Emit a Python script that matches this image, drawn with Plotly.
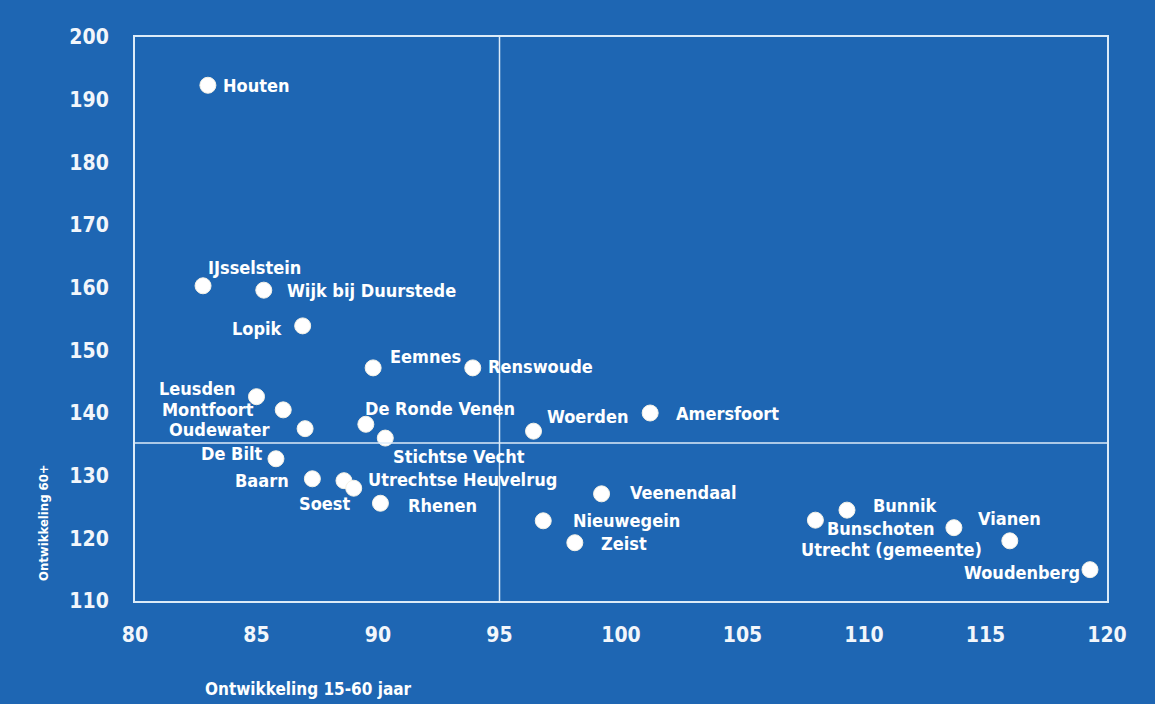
import plotly.graph_objects as go

# ---- data ----
gemeenten = [
    "Houten", "IJsselstein", "Wijk bij Duurstede", "Lopik", "Eemnes", "Renswoude",
    "Leusden", "Montfoort", "Oudewater", "De Ronde Venen", "Stichtse Vecht", "Woerden",
    "Amersfoort", "De Bilt", "Baarn", "Utrechtse Heuvelrug", "Soest", "Rhenen",
    "Veenendaal", "Nieuwegein", "Zeist", "Bunschoten", "Bunnik", "Vianen",
    "Utrecht (gemeente)", "Woudenberg",
]
ontw_15_60 = [
    83.0, 82.8, 85.3, 86.9, 89.8, 93.9,
    85.0, 86.1, 87.0, 89.5, 90.3, 96.4,
    101.2, 85.8, 87.3, 88.6, 89.0, 90.1,
    99.2, 96.8, 98.1, 108.0, 109.3, 113.7,
    116.0, 119.3,
]
ontw_60plus = [
    192.3, 160.3, 159.6, 153.9, 147.2, 147.2,
    142.6, 140.5, 137.5, 138.2, 136.0, 137.1,
    140.0, 132.7, 129.5, 129.2, 128.0, 125.6,
    127.1, 122.8, 119.3, 122.9, 124.5, 121.7,
    119.6, 115.0,
]
x_ticks = [80, 85, 90, 95, 100, 105, 110, 115, 120]
y_ticks = [110, 120, 130, 140, 150, 160, 170, 180, 190, 200]
ref_x = 95.0     # gemiddelde 15-60
ref_y = 135.2    # gemiddelde 60+

# ---- label placement (anchor, xshift px, yshift px) ----
label_pos = {
    "Houten": ("left", 13, 0),
    "IJsselstein": ("left", 3, 18),
    "Wijk bij Duurstede": ("left", 21, 0),
    "Lopik": ("right", -18, -3),
    "Eemnes": ("left", 15, 11),
    "Renswoude": ("left", 13, 1),
    "Leusden": ("right", -19, 8),
    "Montfoort": ("right", -27, 0),
    "Oudewater": ("right", -34, -1),
    "De Ronde Venen": ("left", -3, 16),
    "Stichtse Vecht": ("left", 6, -18),
    "Woerden": ("left", 11, 15),
    "Amersfoort": ("left", 24, 0),
    "De Bilt": ("right", -12, 5),
    "Baarn": ("right", -21, -2),
    "Utrechtse Heuvelrug": ("left", 22, 1),
    "Soest": ("right", -2, -15),
    "Rhenen": ("left", 26, -2),
    "Veenendaal": ("left", 26, 1),
    "Nieuwegein": ("left", 28, 0),
    "Zeist": ("left", 24, -1),
    "Bunschoten": ("left", 10, -8),
    "Bunnik": ("left", 24, 5),
    "Vianen": ("left", 22, 9),
    "Utrecht (gemeente)": ("right", -26, -9),
    "Woudenberg": ("right", -8, -3),
}

BG = "#1E66B3"
FONT = "DejaVu Sans Condensed, Liberation Sans Narrow, Arial Narrow, sans-serif"
FRAME = "#DCEBF8"

fig = go.Figure()
fig.add_trace(go.Scatter(
    x=ontw_15_60, y=ontw_60plus, mode="markers",
    marker=dict(size=16, color="#FFFFFF", line=dict(color="#F4F1E6", width=1)),
    hoverinfo="text", text=gemeenten, showlegend=False,
))

annotations = []
for name, xv, yv in zip(gemeenten, ontw_15_60, ontw_60plus):
    anchor, dx, dy = label_pos[name]
    annotations.append(dict(
        x=xv, y=yv, xref="x", yref="y", text=f"<b>{name}</b>", showarrow=False,
        xanchor=anchor, yanchor="middle", xshift=dx, yshift=dy,
        font=dict(family=FONT, size=18, color="#FFFFFF"),
    ))

annotations.append(dict(
    x=0.178, y=-0.156, xref="paper", yref="paper", text="<b>Ontwikkeling 15-60 jaar</b>",
    showarrow=False, xanchor="center", yanchor="middle",
    font=dict(family=FONT, size=17, color="#FFFFFF"),
))
annotations.append(dict(
    x=-0.0947, y=0.14, xref="paper", yref="paper", text="<b>Ontwikkeling 60+</b>",
    showarrow=False, xanchor="center", yanchor="middle", textangle=-90,
    font=dict(family=FONT, size=13, color="#FFFFFF"),
))

shapes = [
    dict(type="line", xref="x", yref="y", x0=ref_x, x1=ref_x, y0=110, y1=200,
         line=dict(color=FRAME, width=1.5)),
    dict(type="line", xref="x", yref="y", x0=80, x1=120, y0=ref_y, y1=ref_y,
         line=dict(color=FRAME, width=1.5)),
]

fig.update_layout(
    width=1155, height=704,
    margin=dict(l=135, r=48, t=37, b=103),
    paper_bgcolor=BG, plot_bgcolor=BG,
    font=dict(family=FONT, color="#FFFFFF"),
    annotations=annotations, shapes=shapes,
    xaxis=dict(range=[80, 120], tickvals=x_ticks, ticktext=[str(v) for v in x_ticks],
               showgrid=False, zeroline=False, showline=True, mirror=True,
               linecolor=FRAME, linewidth=2, ticks="", ticklabelstandoff=14,
               tickfont=dict(family=FONT, size=21, color="#F2F6FB", weight="bold")),
    yaxis=dict(range=[110, 200], tickvals=y_ticks, ticktext=[str(v) for v in y_ticks],
               showgrid=False, zeroline=False, showline=True, mirror=True,
               linecolor=FRAME, linewidth=2, ticks="", ticklabelstandoff=20,
               tickfont=dict(family=FONT, size=21, color="#F2F6FB", weight="bold")),
)

fig.write_html("out.html", config={"displayModeBar": False},
               post_script="document.body.style.margin='0';document.body.style.background='#E9ECEF';")
